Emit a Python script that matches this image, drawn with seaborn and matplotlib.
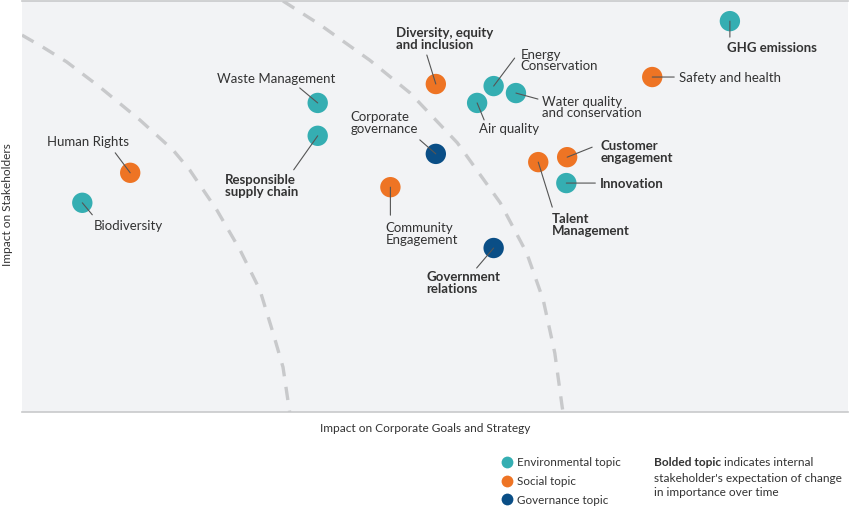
import pandas as pd
import matplotlib.pyplot as plt
import seaborn as sns
from matplotlib.lines import Line2D

# topic scores (0-10 on both axes)
topics = ['GHG emissions', 'Safety and health', 'Diversity, equity\nand inclusion',
          'Energy\nConservation', 'Water quality\nand conservation', 'Air quality',
          'Waste Management', 'Responsible\nsupply chain', 'Corporate\ngovernance',
          'Customer\nengagement', 'Talent\nManagement', 'Innovation',
          'Community\nEngagement', 'Government\nrelations', 'Human Rights', 'Biodiversity']
corporate_impact = [8.57, 7.63, 5.01, 5.71, 5.98, 5.51, 3.58, 3.58, 5.01,
                    6.60, 6.25, 6.59, 4.46, 5.71, 1.31, 0.73]
stakeholder_impact = [9.51, 8.15, 7.98, 7.93, 7.76, 7.52, 7.52, 6.72, 6.28,
                      6.20, 6.08, 5.57, 5.47, 3.99, 5.82, 5.09]
categories = ['Environmental topic', 'Social topic', 'Social topic',
              'Environmental topic', 'Environmental topic', 'Environmental topic',
              'Environmental topic', 'Environmental topic', 'Governance topic',
              'Social topic', 'Social topic', 'Environmental topic',
              'Social topic', 'Governance topic', 'Social topic', 'Environmental topic']
bolded = [True, False, True, False, False, False, False, True, False,
          True, True, True, False, True, False, False]

# dashed threshold curves
inner_x = [0, 0.25, 0.54, 0.94, 1.43, 1.83, 2.03, 2.36, 2.64, 2.88, 3.04, 3.16, 3.24]
inner_y = [9.17, 8.88, 8.52, 7.91, 7.10, 6.37, 5.89, 4.91, 3.94, 2.97, 1.92, 1.09, 0]
outer_x = [3.16, 3.61, 4.21, 4.70, 5.27, 5.79, 6.11, 6.31, 6.45, 6.54, 6.55]
outer_y = [10.0, 9.42, 8.56, 7.76, 6.55, 5.09, 3.87, 2.73, 1.44, 0.12, 0]

category_order = ['Environmental topic', 'Social topic', 'Governance topic']
palette = {'Environmental topic': '#35aeb2', 'Social topic': '#ee7424',
           'Governance topic': '#0a4e86'}

# label layout: text offset (dx, dy) and leader end (lx, ly), in pixels, y downwards
label_layout = {
    'GHG emissions': ((-3, 27), (0, 16)),
    'Safety and health': ((27, 1), (22, 0)),
    'Diversity, equity\nand inclusion': ((-40, -45), (-9, -29)),
    'Energy\nConservation': ((27, -25.5), (21, -28)),
    'Water quality\nand conservation': ((26, 14.5), (22, 6)),
    'Air quality': ((2, 26), (7, 17)),
    'Waste Management': ((-101, -24), (-18, -15)),
    'Responsible\nsupply chain': ((-93, 50), (-24, 34)),
    'Corporate\ngovernance': ((-85, -30.5), (-16, -14)),
    'Customer\nengagement': ((33, -5.5), (25, -10)),
    'Talent\nManagement': ((14, 62.5), (14, 45)),
    'Innovation': ((34, 1), (29, 0)),
    'Community\nEngagement': ((-5, 46.5), (0, 28)),
    'Government\nrelations': ((-67, 35), (-17, 20)),
    'Human Rights': ((-83, -31), (-15, -20)),
    'Biodiversity': ((11, 23), (10, 12)),
}

df = pd.DataFrame({
    'topic': topics,
    'corporate': corporate_impact,
    'stakeholders': stakeholder_impact,
    'category': categories,
    'bold': bolded,
})

sns.set_style('white')
plt.rcParams['font.family'] = ['Lato', 'DejaVu Sans']
text_color = '#333333'

fig = plt.figure(figsize=(8.5, 5.12), dpi=100)
ax = fig.add_axes([22 / 850, 100 / 512, 826 / 850, 411 / 512])
ax.set_facecolor('#f2f3f5')

ax.plot(inner_x, inner_y, color='#c8c9cb', lw=2.4, dashes=(4, 3.2), zorder=1)
ax.plot(outer_x, outer_y, color='#c8c9cb', lw=2.4, dashes=(4, 3.2), zorder=1)

sns.scatterplot(data=df, x='corporate', y='stakeholders', hue='category',
                hue_order=category_order, palette=palette, s=215,
                edgecolor='none', legend=False, ax=ax, zorder=3)

for _, row in df.iterrows():
    (dx, dy), (lx, ly) = label_layout[row['topic']]
    ax.annotate('', xy=(row['corporate'], row['stakeholders']),
                xytext=(lx, -ly), textcoords='offset pixels',
                arrowprops=dict(arrowstyle='-', color='#555555', lw=0.8,
                                shrinkA=0, shrinkB=0), zorder=4)
    ax.annotate(row['topic'], xy=(row['corporate'], row['stakeholders']),
                xytext=(dx, -dy), textcoords='offset pixels',
                ha='left', va='center', fontsize=9.5, linespacing=0.98,
                fontweight='bold' if row['bold'] else 'normal',
                color=text_color, zorder=5)

ax.set_xlim(0, 10)
ax.set_ylim(0, 10)
ax.set_xticks([])
ax.set_yticks([])
ax.set_xlabel('')
ax.set_ylabel('')
for side in ['left', 'right']:
    ax.spines[side].set_visible(False)
for side in ['top', 'bottom']:
    ax.spines[side].set_color('#c8c9cb')
    ax.spines[side].set_linewidth(1.2)

fig.text(425 / 850, 1 - 428 / 512, 'Impact on Corporate Goals and Strategy',
         ha='center', va='center', fontsize=8.6, color=text_color)
fig.text(8 / 850, 1 - 205 / 512, 'Impact on Stakeholders', rotation=90,
         ha='center', va='center', fontsize=8.6, color=text_color)

handles = [Line2D([], [], marker='o', linestyle='', markersize=8.5,
                  markerfacecolor=palette[c], markeredgecolor='none')
           for c in category_order]
fig.legend(handles, category_order, loc='upper left',
           bbox_to_anchor=(494 / 850, 1 - 452 / 512), frameon=False,
           fontsize=8.4, handletextpad=0.05, labelspacing=0.68,
           handlelength=1.5, borderaxespad=0, labelcolor=text_color)

note = fig.text(654 / 850, 1 - 463 / 512, 'Bolded topic', fontweight='bold',
                ha='left', va='center', fontsize=8.6, color=text_color)
ax.annotate(' indicates internal', xy=(1, 0.5), xycoords=note,
            ha='left', va='center', fontsize=8.6, color=text_color,
            annotation_clip=False)
fig.text(654 / 850, 1 - 485.5 / 512,
         "stakeholder's expectation of change\nin importance over time",
         ha='left', va='center', fontsize=8.6, linespacing=1.3, color=text_color)

fig.savefig('out.png', dpi=100)
